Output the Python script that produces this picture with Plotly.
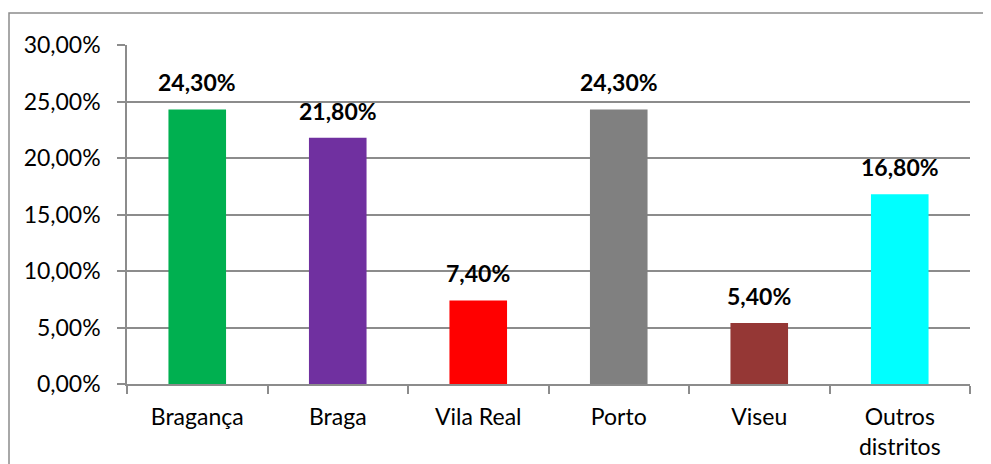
import plotly.graph_objects as go

categories = ["Bragança", "Braga", "Vila Real", "Porto", "Viseu", "Outros<br>distritos"]
values = [0.243, 0.218, 0.074, 0.243, 0.054, 0.168]
colors = ["#00B050", "#7030A0", "#FF0000", "#808080", "#953735", "#00FFFF"]
y_ticks = [0, 0.05, 0.10, 0.15, 0.20, 0.25, 0.30]

# page has an 8px body margin, so the figure is offset by 8px
W, H = 983, 456
L, R, T, B = 119, 21, 37, 80
pw, ph = W - L - R, H - T - B

fig = go.Figure(go.Bar(x=categories, y=values, marker=dict(color=colors, line=dict(width=0)),
                       width=0.41))

for c, v in zip(categories, values):
    fig.add_annotation(x=c, y=v, text=f"{v*100:.2f}%".replace(".", ","), showarrow=False,
                       yanchor="middle", yshift=27,
                       font=dict(family="Lato", size=23, color="#000000", weight="bold"))

# outer chart border
fig.add_shape(type="rect", xref="paper", yref="paper",
              x0=(1 - L) / pw, x1=(W + 5 - L) / pw,
              y0=-(H + 5 - T - ph) / ph, y1=1 + (T - 5) / ph,
              line=dict(color="#8c8c8c", width=1.5), fillcolor="rgba(0,0,0,0)", layer="below")

fig.update_layout(
    width=W, height=H, margin=dict(l=L, r=R, t=T, b=B),
    paper_bgcolor="white", plot_bgcolor="white",
    separators=",.",
    showlegend=False,
    font=dict(family="Lato", size=23, color="#000000"),
    xaxis=dict(showline=True, linecolor="#8c8c8c", linewidth=1.5, ticks="outside",
               tickson="boundaries", ticklen=8, tickcolor="#8c8c8c", tickwidth=1.5,
               ticklabelstandoff=12, showgrid=False, fixedrange=True, automargin=False),
    yaxis=dict(range=[0, 0.30], tickvals=y_ticks, tickformat=".2%", showline=True,
               linecolor="#8c8c8c", linewidth=1.5, ticks="outside", ticklen=8,
               tickcolor="#8c8c8c", tickwidth=1.5, showgrid=True, gridcolor="#8c8c8c",
               gridwidth=1.5, zeroline=False, ticklabelstandoff=12, fixedrange=True,
               automargin=False),
)

fig.write_html("out.html")
